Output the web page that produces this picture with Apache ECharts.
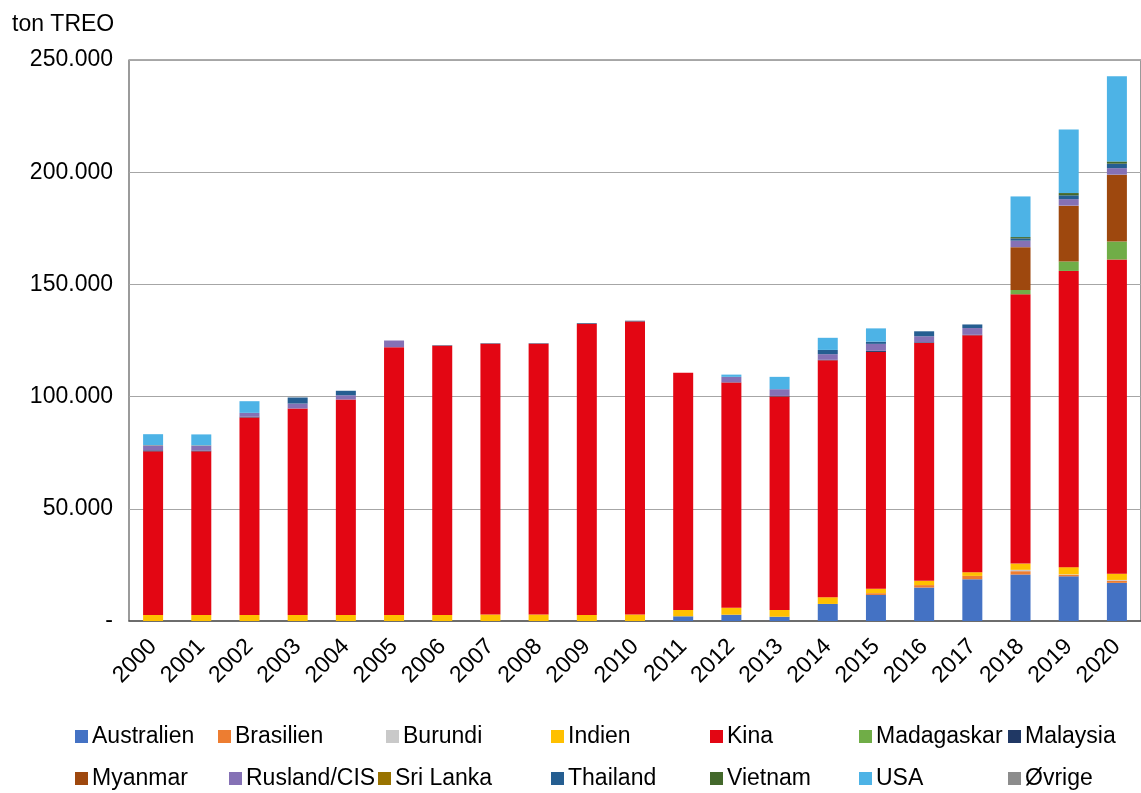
<!doctype html>
<html lang="da">
<head>
    <meta charset="UTF-8">
    <script src="https://cdn.jsdelivr.net/npm/echarts@6/dist/echarts.min.js"></script>
    <title>Produktion af sjældne jordarter</title>
    <style>
        html, body { margin: 0; padding: 0; background: #fff; }
    </style>
</head>
<body>
<div id="main" style="width: 1141px;height:793px;"></div>
<script>
    // data (ton TREO)
    var years = ['2000', '2001', '2002', '2003', '2004', '2005', '2006', '2007', '2008', '2009', '2010',
        '2011', '2012', '2013', '2014', '2015', '2016', '2017', '2018', '2019', '2020'];
    var australien = [0, 0, 0, 0, 0, 0, 0, 0, 0, 0, 0, 2100, 2800, 1900, 7600, 11600, 14900, 18600, 20700, 19900, 17000];
    var brasilien = [0, 0, 0, 0, 0, 0, 0, 0, 0, 0, 0, 0, 0, 0, 0, 800, 1100, 1500, 1500, 700, 1000];
    var burundi = [0, 0, 0, 0, 0, 0, 0, 0, 0, 0, 0, 0, 0, 0, 0, 0, 0, 0, 600, 200, 300];
    var indien = [2700, 2700, 2700, 2700, 2700, 2700, 2700, 2900, 2900, 2700, 2900, 2800, 3100, 3000, 3000, 2000, 1900, 1650, 2800, 3200, 2800];
    var kina = [72900, 72900, 88000, 92000, 96000, 119300, 120000, 120600, 120600, 129700, 130600, 105700, 100400, 95200, 105600, 105500, 106000, 105600, 120000, 132000, 140000];
    var madagaskar = [0, 0, 0, 0, 0, 0, 0, 0, 0, 0, 0, 0, 0, 0, 0, 0, 0, 0, 1900, 4200, 8000];
    var malaysia = [450, 350, 350, 0, 0, 0, 200, 200, 200, 300, 300, 0, 100, 200, 200, 500, 300, 200, 0, 0, 0];
    var myanmar = [0, 0, 0, 0, 0, 0, 0, 0, 0, 0, 0, 0, 0, 0, 0, 0, 0, 0, 19100, 24900, 29800];
    var rusland = [2200, 2200, 1700, 2200, 1900, 3000, 0, 0, 0, 0, 0, 0, 2400, 3000, 2500, 3100, 2700, 3000, 2900, 2900, 2900];
    var sriLanka = [100, 100, 0, 0, 0, 0, 0, 0, 0, 0, 0, 0, 0, 0, 0, 0, 0, 0, 0, 0, 0];
    var thailand = [0, 0, 0, 2700, 2000, 0, 0, 0, 0, 0, 0, 0, 0, 0, 1900, 1000, 2200, 1600, 1000, 1700, 2000];
    var vietnam = [0, 0, 0, 0, 0, 0, 0, 0, 0, 0, 0, 0, 0, 0, 0, 0, 0, 0, 600, 1000, 1000];
    var usa = [4900, 4900, 5200, 0, 0, 0, 0, 0, 0, 0, 0, 0, 1000, 5500, 5400, 5900, 0, 0, 18100, 28300, 38000];
    var oevrige = [0, 0, 0, 0, 0, 0, 0, 0, 0, 0, 0, 0, 0, 0, 0, 0, 0, 0, 0, 0, 0];
    var yTicks = [0, 50000, 100000, 150000, 200000, 250000];

    var names = ['Australien', 'Brasilien', 'Burundi', 'Indien', 'Kina', 'Madagaskar', 'Malaysia',
        'Myanmar', 'Rusland/CIS', 'Sri Lanka', 'Thailand', 'Vietnam', 'USA', 'Øvrige'];
    var values = [australien, brasilien, burundi, indien, kina, madagaskar, malaysia,
        myanmar, rusland, sriLanka, thailand, vietnam, usa, oevrige];
    var colors = ['#4472C4', '#ED7D31', '#C9C9C9', '#FFC000', '#E30613', '#70AD47', '#203864',
        '#9E480E', '#8571B5', '#997300', '#255E91', '#43682B', '#4DB3E6', '#8C8C8C'];

    var font = 'Liberation Sans, Arial, sans-serif';

    function fmt(v) {
        if (v === 0) return '-';
        return String(v).replace(/\B(?=(\d{3})+(?!\d))/g, '.');
    }

    // legend placement (excel-style two rows)
    var legendX = [[75, 218, 386, 551, 710, 859, 1008], [75, 229, 378, 551, 710, 859, 1008]];
    var legendY = [725, 767];
    var legends = [];
    for (var i = 0; i < names.length; i++) {
        var row = i < 7 ? 0 : 1;
        var col = i % 7;
        legends.push({
            data: [names[i]],
            left: legendX[row][col],
            top: legendY[row],
            padding: 0,
            itemWidth: 13,
            itemHeight: 13,
            itemGap: 0,
            icon: 'rect',
            selectedMode: false,
            textStyle: {fontFamily: font, fontSize: 23, color: '#000', padding: [0, 0, 0, -1]}
        });
    }

    var series = [];
    for (var j = 0; j < names.length; j++) {
        series.push({
            name: names[j],
            type: 'bar',
            stack: 'total',
            barWidth: 20,
            itemStyle: {color: colors[j]},
            data: values[j]
        });
    }

    var myChart = echarts.init(document.getElementById('main'));
    var option = {
        animation: false,
        textStyle: {fontFamily: font},
        title: {
            text: 'ton TREO',
            left: 7,
            top: 8,
            textStyle: {fontFamily: font, fontSize: 23, fontWeight: 'normal', color: '#000'}
        },
        legend: legends,
        grid: {
            left: 129,
            top: 60,
            right: -5,
            bottom: 172,
            show: true,
            borderColor: '#595959',
            borderWidth: 1.2
        },
        xAxis: {
            type: 'category',
            data: years,
            axisLine: {lineStyle: {color: '#595959', width: 1.5}},
            axisTick: {show: false},
            axisLabel: {
                interval: 0,
                rotate: 45,
                margin: 22,
                fontFamily: font,
                fontSize: 23,
                color: '#000'
            }
        },
        yAxis: {
            type: 'value',
            min: yTicks[0],
            max: yTicks[yTicks.length - 1],
            interval: yTicks[1] - yTicks[0],
            axisLine: {show: false},
            axisTick: {show: false},
            splitLine: {lineStyle: {color: '#A6A6A6', width: 1}},
            axisLabel: {
                margin: 16,
                fontFamily: font,
                fontSize: 23,
                color: '#000',
                formatter: fmt
            }
        },
        series: series
    };
    myChart.setOption(option);
</script>
</body>
</html>
